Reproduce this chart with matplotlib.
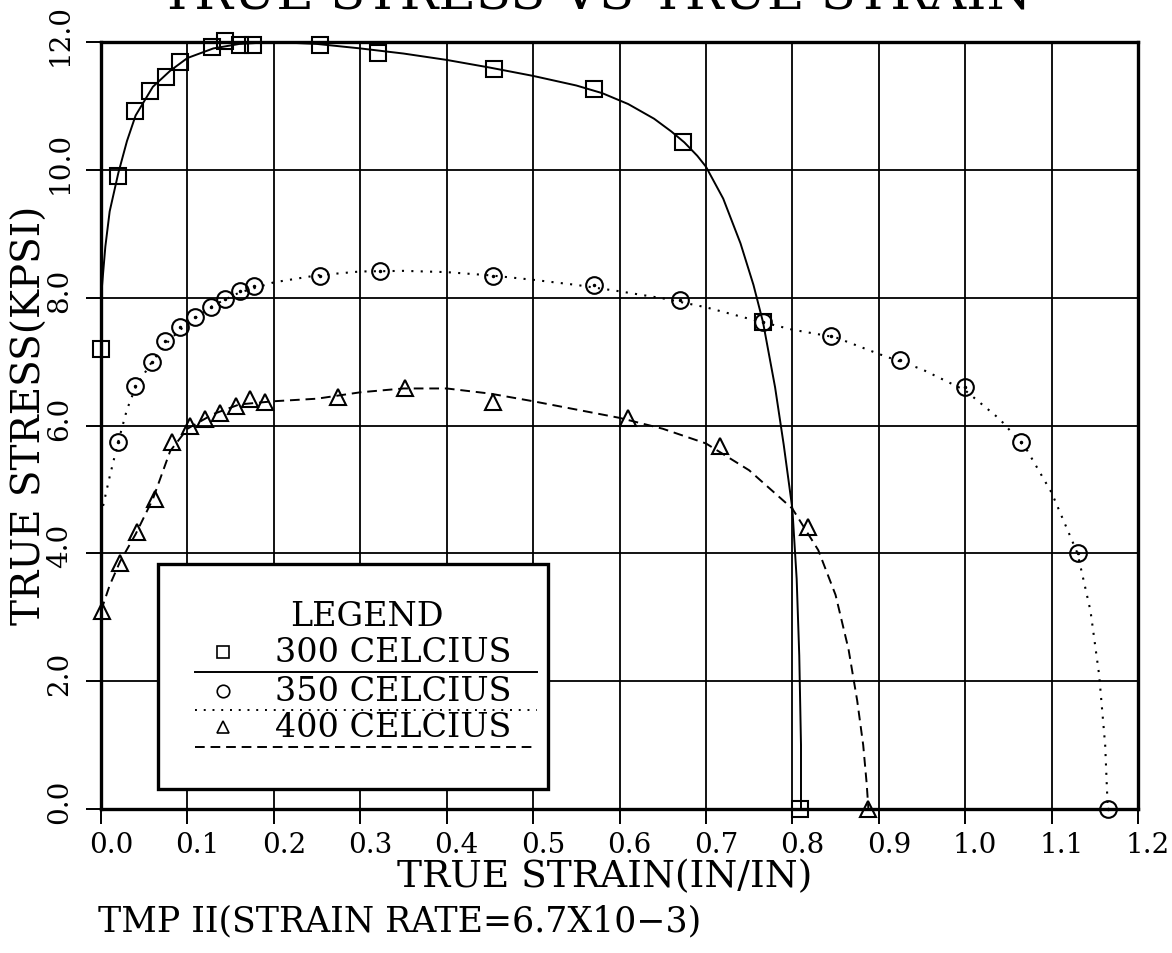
import numpy as np
import matplotlib.pyplot as plt
import matplotlib.transforms as mtransforms
from matplotlib.patches import Rectangle
from matplotlib.lines import Line2D

# Measured points, 300 C
strain_300 = [0.0, 0.020, 0.039, 0.057, 0.075, 0.091, 0.128, 0.144, 0.161, 0.176,
              0.253, 0.320, 0.455, 0.570, 0.674, 0.766, 0.809]
stress_300 = [7.2, 9.9, 10.92, 11.24, 11.46, 11.68, 11.92, 12.02, 11.96, 11.96,
              11.95, 11.83, 11.58, 11.26, 10.43, 7.62, 0.0]

# Measured points, 350 C
strain_350 = [0.020, 0.039, 0.059, 0.074, 0.091, 0.109, 0.127, 0.144, 0.161, 0.177,
              0.253, 0.323, 0.454, 0.570, 0.670, 0.766, 0.845, 0.925, 1.000, 1.065,
              1.130, 1.165]
stress_350 = [5.75, 6.62, 7.0, 7.32, 7.54, 7.7, 7.86, 7.98, 8.1, 8.18,
              8.34, 8.42, 8.34, 8.2, 7.97, 7.62, 7.4, 7.02, 6.6, 5.75,
              4.0, 0.0]

# Measured points, 400 C
strain_400 = [0.001, 0.022, 0.042, 0.0625, 0.082, 0.103, 0.120, 0.138, 0.156, 0.172,
              0.190, 0.274, 0.352, 0.454, 0.610, 0.716, 0.818, 0.888]
stress_400 = [3.1, 3.85, 4.33, 4.85, 5.74, 6.0, 6.1, 6.2, 6.3, 6.42,
              6.37, 6.45, 6.58, 6.37, 6.12, 5.68, 4.42, 0.0]

# Fitted curves drawn through each data set
fit_strain_300 = [0.0, 0.005, 0.01, 0.02, 0.03, 0.04, 0.06, 0.08, 0.10, 0.13, 0.16,
                  0.20, 0.25, 0.30, 0.35, 0.40, 0.45, 0.50, 0.55, 0.58, 0.61, 0.64,
                  0.66, 0.675, 0.69, 0.70, 0.72, 0.74, 0.755, 0.766, 0.78, 0.79,
                  0.80, 0.805, 0.808, 0.81, 0.81]
fit_stress_300 = [8.0, 8.8, 9.35, 9.95, 10.45, 10.85, 11.3, 11.55, 11.75, 11.9, 11.97,
                  12.0, 11.97, 11.9, 11.82, 11.72, 11.6, 11.47, 11.32, 11.2, 11.03, 10.8,
                  10.6, 10.43, 10.22, 10.05, 9.55, 8.85, 8.2, 7.62, 6.6, 5.7,
                  4.7, 3.6, 2.4, 1.0, 0.0]

fit_strain_350 = [0.0, 0.01, 0.02, 0.03, 0.04, 0.06, 0.08, 0.10, 0.13, 0.16, 0.20,
                  0.25, 0.30, 0.35, 0.40, 0.45, 0.50, 0.55, 0.60, 0.65, 0.70, 0.75,
                  0.80, 0.85, 0.90, 0.95, 1.00, 1.04, 1.07, 1.10, 1.13, 1.145, 1.155,
                  1.162, 1.165]
fit_stress_350 = [4.6, 5.2, 5.75, 6.25, 6.6, 7.02, 7.35, 7.6, 7.88, 8.08, 8.24,
                  8.35, 8.41, 8.42, 8.4, 8.35, 8.28, 8.2, 8.1, 7.99, 7.85, 7.67,
                  7.5, 7.38, 7.12, 6.88, 6.55, 6.1, 5.65, 4.95, 4.0, 3.1, 2.1,
                  1.0, 0.0]

fit_strain_400 = [0.0, 0.01, 0.022, 0.04, 0.06, 0.08, 0.10, 0.13, 0.16, 0.20, 0.25,
                  0.30, 0.35, 0.40, 0.45, 0.50, 0.55, 0.60, 0.65, 0.70, 0.75, 0.80,
                  0.83, 0.85, 0.865, 0.875, 0.882, 0.886, 0.888]
fit_stress_400 = [3.1, 3.5, 3.87, 4.3, 4.85, 5.6, 5.95, 6.18, 6.33, 6.38, 6.42,
                  6.52, 6.58, 6.58, 6.5, 6.38, 6.25, 6.12, 5.95, 5.72, 5.3, 4.7,
                  4.05, 3.35, 2.5, 1.7, 1.0, 0.4, 0.0]

x_ticks = [0.0, 0.1, 0.2, 0.3, 0.4, 0.5, 0.6, 0.7, 0.8, 0.9, 1.0, 1.1, 1.2]
y_ticks = [0.0, 2.0, 4.0, 6.0, 8.0, 10.0, 12.0]

legend_labels = ['300 CELCIUS', '350 CELCIUS', '400 CELCIUS']

SERIF = 'DejaVu Serif'
SOLID = '-'
DOTTED = (0, (1.0, 3.5))
DASHED = (0, (5.0, 3.0))

fig = plt.figure(figsize=(11.72, 9.54), dpi=100)
ax = fig.add_axes([0.0862, 0.1509, 0.8848, 0.804])

ax.set_xlim(0, 1.2)
ax.set_ylim(0, 12.0)
ax.set_xticks(x_ticks)
ax.set_yticks(y_ticks)
ax.set_xticklabels(['%.1f' % v for v in x_ticks], fontsize=20, family=SERIF)
ax.set_yticklabels(['%.1f' % v for v in y_ticks], fontsize=20, family=SERIF,
                   rotation=90, va='center')
ax.tick_params(axis='both', direction='out', length=11, width=1.4, color='black')
ax.tick_params(axis='x', pad=5)
ax.tick_params(axis='y', pad=9)

# plotter-style label offsets
shift_x = mtransforms.ScaledTranslation(0.10, 0, fig.dpi_scale_trans)
for lab in ax.get_xticklabels():
    lab.set_transform(lab.get_transform() + shift_x)
shift_y = mtransforms.ScaledTranslation(0, 0.08, fig.dpi_scale_trans)
for lab in ax.get_yticklabels():
    lab.set_transform(lab.get_transform() + shift_y)

ax.grid(True, color='black', linewidth=1.3)
ax.set_axisbelow(True)
for sp in ax.spines.values():
    sp.set_linewidth(2.4)

# curves
ax.plot(fit_strain_300, fit_stress_300, color='black', lw=1.4, ls=SOLID, zorder=3)
ax.plot(fit_strain_350, fit_stress_350, color='black', lw=1.5, ls=DOTTED, zorder=3)
ax.plot(fit_strain_400, fit_stress_400, color='black', lw=1.4, ls=DASHED, zorder=3)

# markers
mk = dict(ls='none', color='black', mfc='none', mew=1.5, clip_on=False, zorder=4)
ax.plot(strain_300, stress_300, marker='s', ms=11, **mk)
ax.plot(strain_350, stress_350, marker='o', ms=12, **mk)
ax.plot(strain_350, stress_350, marker='.', ms=3, ls='none', color='black',
        clip_on=False, zorder=4)
ax.plot(strain_400, stress_400, marker='^', ms=11, **mk)

# legend box
ta = ax.transAxes
ax.add_patch(Rectangle((0.055, 0.026), 0.376, 0.293, transform=ta,
                       facecolor='white', edgecolor='black', lw=2.4, zorder=6))
ax.text(0.2565, 0.2516, 'LEGEND', transform=ta, ha='center', va='center',
        fontsize=24, family=SERIF, zorder=7)
row_y = [0.2047, 0.1538, 0.1069]
line_y = [0.1786, 0.1291, 0.0808]
markers = ['s', 'o', '^']
styles = [SOLID, DOTTED, DASHED]
for lbl, ry, ly, m, st in zip(legend_labels, row_y, line_y, markers, styles):
    ax.add_line(Line2D([0.1176], [ry], transform=ta, marker=m, ms=9, mfc='none',
                       mec='black', mew=1.2, ls='none', zorder=7))
    ax.text(0.1678, ry, lbl, transform=ta, ha='left', va='center',
            fontsize=24, family=SERIF, zorder=7)
    ax.add_line(Line2D([0.0906, 0.4204], [ly, ly], transform=ta, color='black',
                       lw=1.4, ls=st, zorder=7))

# titles and captions
fig.text(0.508, 0.9905, 'TRUE STRESS VS TRUE STRAIN', ha='center', va='baseline',
         fontsize=37, family=SERIF)
fig.text(0.516, 0.0810, 'TRUE STRAIN(IN/IN)', ha='center', va='center',
         fontsize=27, family=SERIF)
fig.text(0.0256, 0.565, 'TRUE STRESS(KPSI)', ha='center', va='center',
         rotation=90, fontsize=28, family=SERIF)
fig.text(0.0836, 0.0345, 'TMP II(STRAIN RATE=6.7X10\u22123)', ha='left', va='center',
         fontsize=25, family=SERIF)

fig.savefig('out.png', dpi=100)
